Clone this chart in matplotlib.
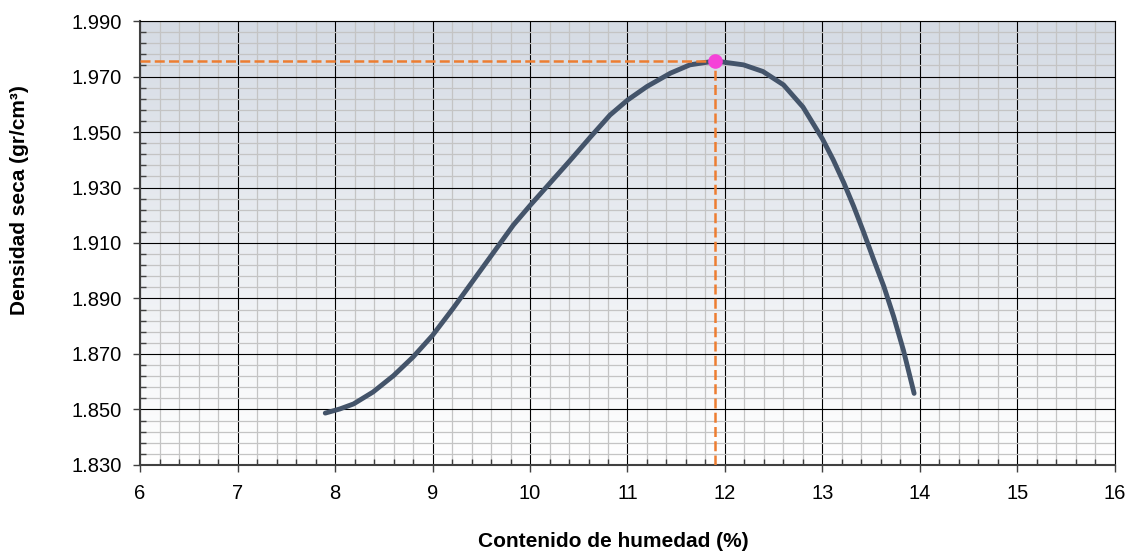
import numpy as np
import matplotlib
matplotlib.use("Agg")
import matplotlib.pyplot as plt
from matplotlib.ticker import FormatStrFormatter
from matplotlib.colors import LinearSegmentedColormap

plt.rcParams['font.family'] = ['Liberation Sans', 'DejaVu Sans']

# curva de compactación
humedad = [7.90, 8.05, 8.19, 8.39, 8.60, 8.80, 9.00, 9.21, 9.42, 9.62, 9.83, 10.00,
           10.41, 10.62, 10.82, 11.00, 11.20, 11.44, 11.64, 11.90, 12.19, 12.39, 12.60,
           12.80, 13.00, 13.11, 13.22, 13.32, 13.42, 13.52, 13.63, 13.73, 13.83, 13.94]
densidad = [1.8487, 1.8502, 1.8520, 1.8563, 1.8622, 1.8689, 1.8767, 1.8864, 1.8966, 1.9063,
            1.9165, 1.9235, 1.9397, 1.9482, 1.9561, 1.9615, 1.9664, 1.9712, 1.9742, 1.9756,
            1.9742, 1.9718, 1.9670, 1.9590, 1.9475, 1.9400, 1.9316, 1.9232, 1.9141, 1.9045,
            1.8943, 1.8835, 1.8714, 1.8558]

# óptimo
hum_opt = 11.90
dens_opt = 1.9756

x_ticks = [6, 7, 8, 9, 10, 11, 12, 13, 14, 15, 16]
y_ticks = [1.830, 1.850, 1.870, 1.890, 1.910, 1.930, 1.950, 1.970, 1.990]

fig = plt.figure(figsize=(11.34, 5.56), dpi=100)
ax = fig.add_axes([0.1235, 0.1637, 0.8597, 0.7985])

ax.set_xlim(6, 16)
ax.set_ylim(1.830, 1.990)

# fondo degradado
cmap = LinearSegmentedColormap.from_list("fondo", ["#ffffff", "#d5dbe4"])
grad = np.linspace(0, 1, 256).reshape(-1, 1)
ax.imshow(grad, extent=[6, 16, 1.830, 1.990], origin="lower", aspect="auto",
          cmap=cmap, zorder=0)

ax.set_xticks(x_ticks)
ax.set_xticks(np.arange(6, 16.001, 0.2), minor=True)
ax.set_yticks(y_ticks)
ax.set_yticks(np.arange(1.830, 1.9901, 0.004), minor=True)
ax.yaxis.set_major_formatter(FormatStrFormatter('%.3f'))

ax.grid(which="minor", color="#c4c4c4", linewidth=0.9, zorder=1)
ax.grid(which="major", color="black", linewidth=0.8, zorder=1)
ax.set_axisbelow(True)

ax.tick_params(which="major", direction="out", length=5, width=1, labelsize=14.5,
               colors="#404040", labelcolor="black")
ax.tick_params(which="minor", direction="in", length=4, width=1, colors="#404040")
ax.tick_params(axis="x", which="major", pad=9)
ax.tick_params(axis="y", which="major", pad=8)

for lado in ["left", "bottom"]:
    ax.spines[lado].set_color("#404040")
    ax.spines[lado].set_linewidth(1.5)
for lado in ["top", "right"]:
    ax.spines[lado].set_color("black")
    ax.spines[lado].set_linewidth(0.8)

ax.plot(humedad, densidad, color="#44546a", linewidth=3.5, solid_capstyle="round",
        solid_joinstyle="round", zorder=3)

ax.plot([6, hum_opt], [dens_opt, dens_opt], color="#ed7d31", linewidth=1.8,
        dashes=(4, 1.7), zorder=4)
ax.plot([hum_opt, hum_opt], [1.830, dens_opt], color="#ed7d31", linewidth=1.8,
        dashes=(4, 1.7), zorder=4)
ax.plot([hum_opt], [dens_opt], marker="o", markersize=9.5, color="#f542d8",
        linestyle="none", zorder=5, clip_on=False)

ax.set_xlabel("Contenido de humedad (%)", fontsize=15, fontweight="bold", va="center")
ax.set_ylabel("Densidad seca (gr/cm³)", fontsize=15, fontweight="bold", va="center")
ax.xaxis.set_label_coords(0.485, (465 - 542) / 444)
ax.yaxis.set_label_coords((19.5 - 140) / 975, (465 - 200) / 444)

fig.savefig("out.png", dpi=100)
